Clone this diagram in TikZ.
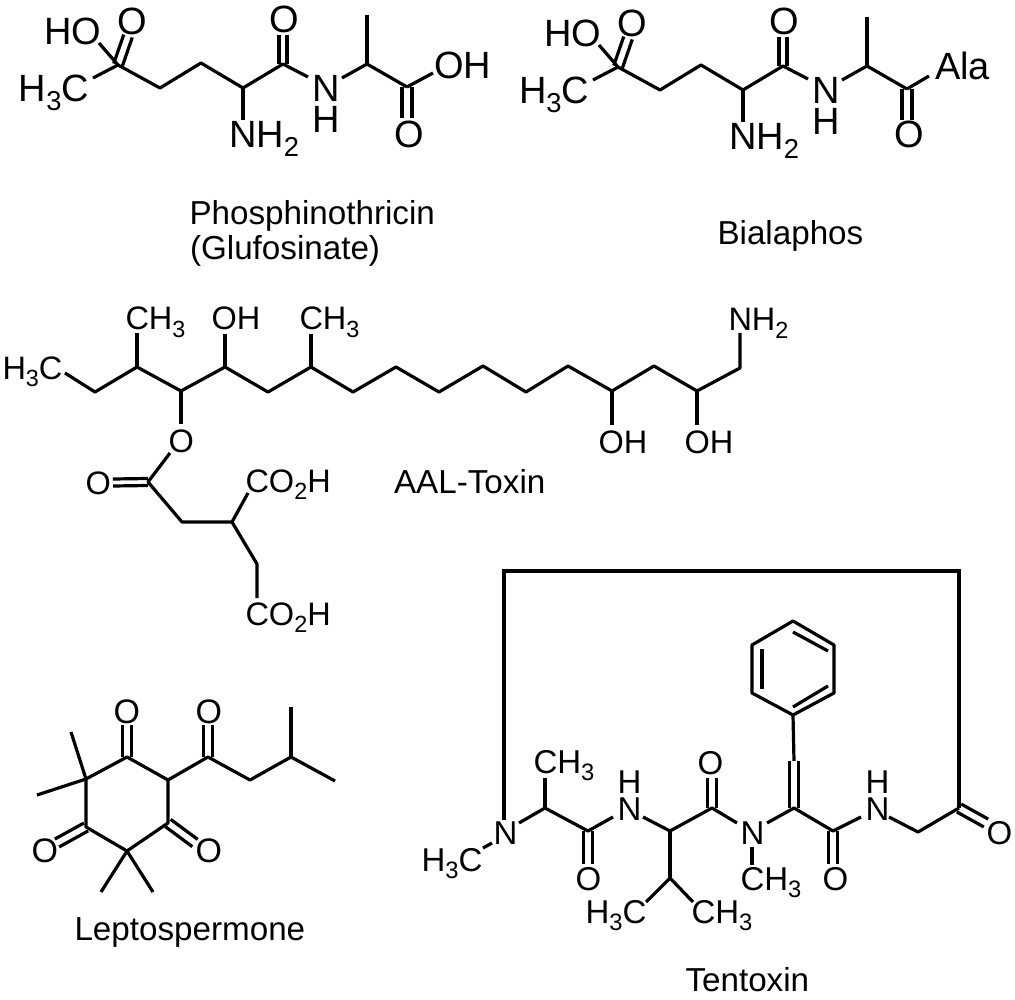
\documentclass[tikz,border=0pt]{standalone}
\usepackage{graphicx}
\usepackage{fontspec}
\setmainfont{Liberation Sans}
\usetikzlibrary{calc}
\newcommand\fsA{\fontsize{38}{38}\selectfont}
\newcommand\fsB{\fontsize{32.5}{32.5}\selectfont}
\newcommand\fsC{\fontsize{33}{33}\selectfont}
\newcommand\fsD{\fontsize{34}{34}\selectfont}
\newcommand\fsCap{\fontsize{33.2}{33.2}\selectfont}
\newcommand\sbs[1]{\raisebox{-0.22em}{\scalebox{0.72}{#1}}}
\newcommand\dbl[3][4.5pt]{%
  \draw[bond] ($(#2)!#1!90:(#3)$) -- ($(#3)!#1!-90:(#2)$);
  \draw[bond] ($(#2)!#1!-90:(#3)$) -- ($(#3)!#1!90:(#2)$);}
\tikzset{
  bond/.style={line width=3.2pt,line join=round,black},
  lab/.style={anchor=base west,inner sep=0pt,outer sep=0pt,text=black}
}
\begin{document}
\begin{tikzpicture}[x=1pt,y=-1pt]
\useasboundingbox (0,0) rectangle (1015,1000);

% --- shared backbone of Phosphinothricin and Bialaphos
\foreach \p/\sx/\sy in {a/0/0,b/500/2}{
\begin{scope}[shift={(\sx,\sy)}]
  \foreach \n/\x/\y in {c1/118/65,c2/160/88,c3/201/63,c4/243/88,c5/283/64,
    nl/308/77,nr/342/78,c6/367/64,me/367/15,c7/407/87,
    ho/99/43,ch/93/78,o1/128/36,o2/283/35,nh/243/120}{
    \coordinate (\p\n) at (\x,\y);}
  \draw[bond] (\p ho) -- (\p c1) -- (\p c2) -- (\p c3) -- (\p c4) -- (\p c5) -- (\p nl);
  \draw[bond] (\p ch) -- (\p c1);
  \draw[bond] (\p c4) -- (\p nh);
  \draw[bond] (\p nr) -- (\p c6) -- (\p c7);
  \draw[bond] (\p c6) -- (\p me);
  \dbl{\p c1}{\p o1}
  \dbl[4pt]{\p c5}{\p o2}
  \node[lab,font=\fsA] (\p lho) at (44,45) {HO};
  \node[lab,font=\fsA] (\p lo1) at (117,34.5) {O};
  \node[lab,font=\fsA] (\p lch) at (19,102) {H\sbs{3}C};
  \node[lab,font=\fsA] (\p lo2) at (269.5,32.5) {O};
  \node[lab,font=\fsA] (\p lnh) at (229,148) {NH\sbs{2}};
  \node[lab,font=\fsA] (\p ln) at (312,102) {N};
  \node[lab,font=\fsA] (\p lh) at (312,133) {H};
\end{scope}}

% --- Phosphinothricin C-terminus
\foreach \n/\x/\y in {aoh/433/73,ao3/407/118}{\coordinate (\n) at (\x,\y);}
\draw[bond] (ac7) -- (aoh);
\dbl[5pt]{ac7}{ao3}
\node[lab,font=\fsA] (aloh) at (434,79) {OH};
\node[lab,font=\fsA] (alo3) at (394.5,148) {O};
\node[lab,font=\fsCap] (capa) at (189.5,225) {Phosphinothricin};
\node[lab,font=\fsCap] (capb) at (190,260) {(Glufosinate)};

% --- Bialaphos C-terminus
\foreach \n/\x/\y in {bala/929/76,bo3/907/120}{\coordinate (\n) at (\x,\y);}
\draw[bond] (bc7) -- (bala);
\dbl[5pt]{bc7}{bo3}
\node[lab,font=\fsA] (blala) at (935,80) {Ala};
\node[lab,font=\fsA] (blo3) at (894,148) {O};
\node[lab,font=\fsCap] (capc) at (717.5,245) {Bialaphos};

% --- AAL-Toxin
\foreach \n/\x/\y in {s0/65/373,s1/95/392,s2/137/367,s3/181/391,s4/225/367,s5/268/392,
  s6/311/367,s7/353/392,s8/396/367,s9/439/392,s10/483/366,s11/526/392,s12/568/366,
  s13/612/391,s14/654/366,s15/697/391,s16/740/368,s17/740/333,
  m1/137/333,h1/225/334,m2/311/334,h2/612/425,h3/697/425,
  e1/181/424,e2/170/453,e3/148/482,e4/113/482.5,e5/182/522,e6/232/522,
  e7/248/493,e8/257/564,e9/257/598}{\coordinate (\n) at (\x,\y);}
\draw[bond] (s0)--(s1)--(s2)--(s3)--(s4)--(s5)--(s6)--(s7)--(s8)--(s9)--(s10)--(s11)--(s12)--(s13)--(s14)--(s15)--(s16)--(s17);
\draw[bond] (s2)--(m1);
\draw[bond] (s4)--(h1);
\draw[bond] (s6)--(m2);
\draw[bond] (s13)--(h2);
\draw[bond] (s15)--(h3);
\draw[bond] (s3)--(e1);
\draw[bond] (e2)--(e3)--(e5)--(e6)--(e7);
\draw[bond] (e6)--(e8)--(e9);
\dbl[3.5pt]{e3}{e4}
\node[lab,font=\fsB] (t1) at (2.5,379) {H\sbs{3}C};
\node[lab,font=\fsB] (t2) at (125.5,330) {CH\sbs{3}};
\node[lab,font=\fsB] (t3) at (211.5,330) {OH};
\node[lab,font=\fsB] (t4) at (299.5,330) {CH\sbs{3}};
\node[lab,font=\fsB] (t5) at (168.5,452) {O};
\node[lab,font=\fsB] (t6) at (85.5,494) {O};
\node[lab,font=\fsB] (t7) at (245.5,492) {CO\sbs{2}H};
\node[lab,font=\fsB] (t8) at (245.5,625) {CO\sbs{2}H};
\node[lab,font=\fsB] (t9) at (598.5,453) {OH};
\node[lab,font=\fsB] (t10) at (684.5,453) {OH};
\node[lab,font=\fsB] (t11) at (728.5,331) {NH\sbs{2}};
\node[lab,font=\fsCap] (capd) at (394,493) {AAL-Toxin};

% --- Leptospermone
\foreach \n/\x/\y in {r1/127/757,r2/168/780,r3/168/823,r4/127/851,r5/86/827,r6/86/779,
  q1/71/732,q2/37/795,q3/101/892,q4/153/892,
  o1/127/725,k1/208/757,o2/208/725,k2/250/780,k3/291/757,k4/291/707,k5/335/781,
  o3/195/843,o4/57/843}{\coordinate (\n) at (\x,\y);}
\draw[bond] (r1)--(r2)--(r3)--(r4)--(r5)--(r6)--cycle;
\draw[bond] (q1)--(r6)--(q2);
\draw[bond] (q3)--(r4)--(q4);
\draw[bond] (r2)--(k1)--(k2)--(k3)--(k5);
\draw[bond] (k3)--(k4);
\dbl{r1}{o1}
\dbl{k1}{o2}
\dbl{r3}{o3}
\dbl{r5}{o4}
\node[lab,font=\fsD] (l1) at (113.5,723) {O};
\node[lab,font=\fsD] (l2) at (195.5,723) {O};
\node[lab,font=\fsD] (l3) at (195.5,862) {O};
\node[lab,font=\fsD] (l4) at (31.5,862) {O};
\node[lab,font=\fsCap] (cape) at (74.5,940) {Leptospermone};

% --- Tentoxin
\foreach \n/\x/\y in {tl/504/571,tr/959/571,n1/504/820,n2/492/843,n3/483/848,
  n4/519/823,a1/545/808,a2/545/778,a3/588/831,a4/613/817,a5/588/864,
  b1/643/817,b2/670/831,b3/712/808,b4/737/823,b5/670/878,b6/646/902,b7/693/902,b8/712/778,
  d1/752/847,d2/752/865,d3/767/823,d4/794/808,d5/794/761,d6/833/831,d7/861/817,d8/833/864,
  g1/889/817,g2/918/832,g3/959/808,g4/986/823,
  p1/793/621,p2/834/645,p3/834/693,p4/793/715,p5/752/693,p6/752/645,
  i1/793/632,i2/828/651,i3/762/649,i4/762/689,i5/793/707,i6/828/686}{\coordinate (\n) at (\x,\y);}
\draw[bond,line join=miter] (n1)--(tl)--(tr)--(g3);
\draw[bond] (n2)--(n3);
\draw[bond] (n4)--(a1)--(a3)--(a4);
\draw[bond] (a1)--(a2);
\dbl{a3}{a5}
\draw[bond] (b1)--(b2)--(b3)--(b4);
\draw[bond] (b2)--(b5);
\draw[bond] (b6)--(b5)--(b7);
\dbl{b3}{b8}
\draw[bond] (d1)--(d2);
\draw[bond] (d3)--(d4)--(d6)--(d7);
\dbl{d4}{d5}
\draw[bond] (d5)--(p4);
\dbl{d6}{d8}
\draw[bond] (g1)--(g2)--(g3);
\dbl{g3}{g4}
\draw[bond] (p1)--(p2)--(p3)--(p4)--(p5)--(p6)--cycle;
\draw[bond] (i1)--(i2);
\draw[bond] (i3)--(i4);
\draw[bond] (i5)--(i6);
\node[lab,font=\fsC] (x1) at (493.5,844) {N};
\node[lab,font=\fsC] (x2) at (421.5,871) {H\sbs{3}C};
\node[lab,font=\fsC] (x3) at (533.5,773) {CH\sbs{3}};
\node[lab,font=\fsC] (x4) at (575.5,890) {O};
\node[lab,font=\fsC] (x5) at (617.5,820) {N};
\node[lab,font=\fsC] (x6) at (617.5,793) {H};
\node[lab,font=\fsC] (x7) at (585.5,923) {H\sbs{3}C};
\node[lab,font=\fsC] (x8) at (691.5,923) {CH\sbs{3}};
\node[lab,font=\fsC] (x9) at (697.5,774) {O};
\node[lab,font=\fsC] (x10) at (740.5,844) {N};
\node[lab,font=\fsC] (x11) at (740.5,890) {CH\sbs{3}};
\node[lab,font=\fsC] (x12) at (822.5,890) {O};
\node[lab,font=\fsC] (x13) at (865.5,820) {N};
\node[lab,font=\fsC] (x14) at (865.5,793) {H};
\node[lab,font=\fsC] (x15) at (986.5,844) {O};
\node[lab,font=\fsCap] (capf) at (685.5,991) {Tentoxin};
\end{tikzpicture}
\end{document}
